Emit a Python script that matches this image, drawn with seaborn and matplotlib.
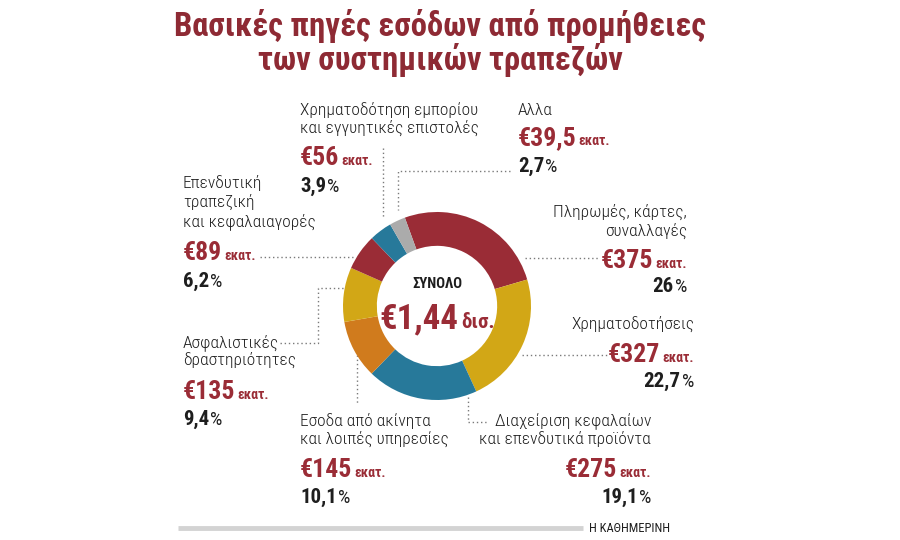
import matplotlib
matplotlib.use("Agg")
import matplotlib.pyplot as plt
import seaborn as sns

# data
categories = ["Πληρωμές, κάρτες,\nσυναλλαγές", "Χρηματοδοτήσεις",
              "Διαχείριση κεφαλαίων\nκαι επενδυτικά προϊόντα",
              "Εσοδα από ακίνητα\nκαι λοιπές υπηρεσίες",
              "Ασφαλιστικές\nδραστηριότητες",
              "Επενδυτική\nτραπεζική\nκαι κεφαλαιαγορές",
              "Χρηματοδότηση εμπορίου\nκαι εγγυητικές επιστολές", "Αλλα"]
values = [375, 327, 275, 145, 135, 89, 56, 39.5]
amounts = ["€375", "€327", "€275", "€145", "€135", "€89", "€56", "€39,5"]
percents = ["26", "22,7", "19,1", "10,1", "9,4", "6,2", "3,9", "2,7"]
total_label = "€1,44"

RED = "#9A2C36"
YEL = "#D2A716"
BLU = "#27799A"
ORA = "#D07B1D"
GRY = "#ABABAB"
colors = [RED, YEL, BLU, ORA, YEL, RED, BLU, GRY]
TXT = "#1E1E1E"
TITLE = "#8E2A34"

sns.set_theme(style="white")
plt.rcParams["font.family"] = ["Roboto Condensed", "Open Sans Condensed", "Roboto", "DejaVu Sans"]

fig = plt.figure(figsize=(9, 5.4), dpi=100)
fig.patch.set_facecolor("white")
ax = fig.add_axes([0, 0, 1, 1])
ax.set_xlim(0, 900)
ax.set_ylim(540, 0)
ax.axis("off")

# donut
cx, cy, r = 437, 306, 94
pax = fig.add_axes([(cx - r) / 900, (540 - cy - r) / 540, 2 * r / 900, 2 * r / 540])
pax.pie(values, colors=colors, startangle=110, counterclock=False,
        wedgeprops=dict(width=0.36, linewidth=0))
pax.set_xlim(-1, 1)
pax.set_ylim(-1, 1)
pax.axis("off")

renderer = fig.canvas.get_renderer()


def run(x, y, parts, ha="left", gap=3):
    # several text pieces of different size on one baseline
    arts = []
    for s, size, weight, color in parts:
        arts.append(ax.text(0, y, s, fontsize=size, fontweight=weight, color=color,
                            va="baseline", ha="left"))
    widths = [t.get_window_extent(renderer).width for t in arts]
    tot = sum(widths) + gap * (len(arts) - 1)
    x0 = x if ha == "left" else (x - tot if ha == "right" else x - tot / 2)
    for t, w in zip(arts, widths):
        t.set_x(x0)
        x0 += w + gap


def label(i, x, y_lines, y_amt, y_pct, ha="left"):
    for line, yy in zip(categories[i].split("\n"), y_lines):
        ax.text(x, yy, line, fontsize=12.5, fontweight="light", color=TXT, ha=ha, va="baseline")
    run(x, y_amt, [(amounts[i], 18.5, "bold", RED), ("εκατ.", 10, "bold", RED)], ha=ha, gap=2)
    run(x, y_pct, [(percents[i], 15, "bold", TXT), ("%", 14, "normal", TXT)], ha=ha, gap=1)


# title
ax.text(440, 36, "Βασικές πηγές εσόδων από προμήθειες", fontsize=23.5, fontweight="bold",
        color=TITLE, ha="center", va="baseline")
ax.text(440, 70, "των συστημικών τραπεζών", fontsize=23.5, fontweight="bold",
        color=TITLE, ha="center", va="baseline")

label(0, 687, [217, 236], 268, 292, ha="right")
label(1, 694, [329], 362, 387, ha="right")
label(2, 651, [426, 444], 477, 503, ha="right")
label(3, 300, [426, 444], 477, 503)
label(4, 183, [347, 365], 399, 425)
label(5, 183, [188, 207, 226], 260, 287)
label(6, 300, [115, 133], 165, 192)
label(7, 518, [115], 145, 172)

# centre
ax.text(cx, 288, "ΣΥΝΟΛΟ", fontsize=10.5, fontweight="bold", color=TXT,
        ha="center", va="baseline")
run(cx, 328, [(total_label, 25, "bold", RED), ("δισ.", 15, "bold", RED)], ha="center")

# leader lines
dot = dict(color="#7A7A7A", linewidth=1, linestyle=(0, (1, 2)))
leaders = [
    ([383, 383], [148, 218]),
    ([510, 398, 398], [171, 171, 210]),
    ([260, 353], [257, 257]),
    ([525, 598], [258, 258]),
    ([280, 318, 318, 346], [343, 343, 288, 288]),
    ([522, 607], [355, 355]),
    ([357, 357], [355, 403]),
    ([468, 468, 488], [397, 422, 422]),
]
for xs, ys in leaders:
    ax.plot(xs, ys, **dot)

# footer
ax.plot([178, 583], [528, 528], color="#D3D3D3", linewidth=3.5, solid_capstyle="butt")
ax.text(589, 532, "Η ΚΑΘΗΜΕΡΙΝΗ", fontsize=9, color=TXT, ha="left", va="baseline")

fig.savefig("out.png", dpi=100, facecolor="white")
